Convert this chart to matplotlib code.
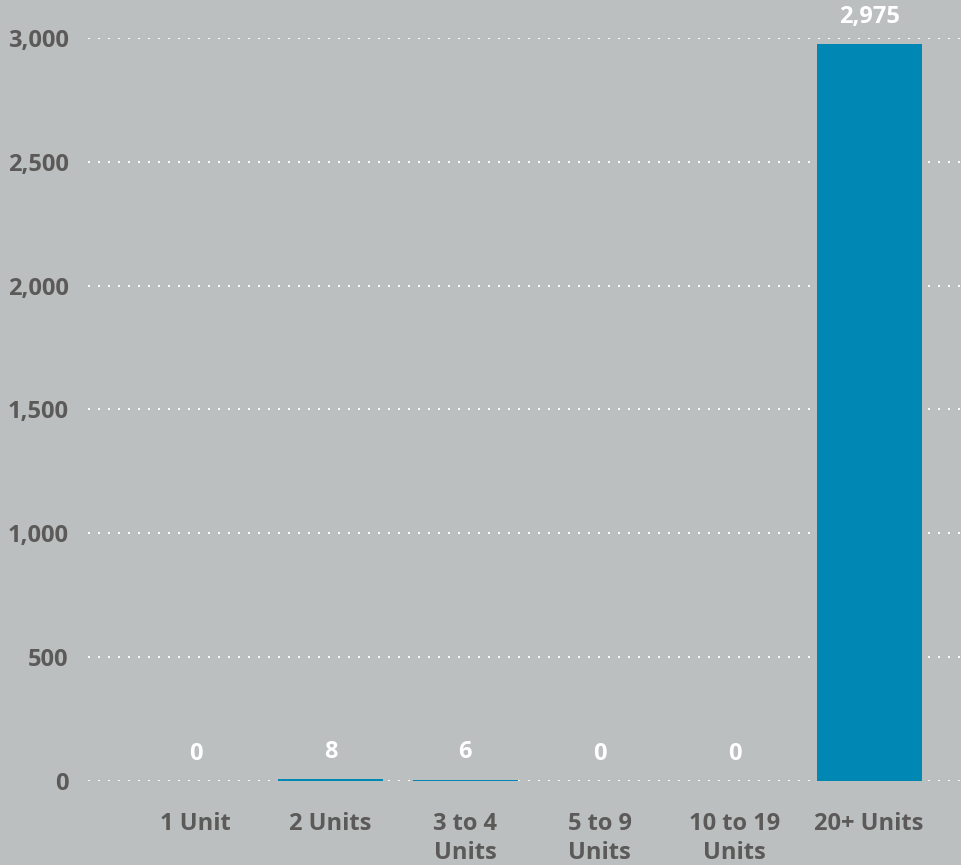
import matplotlib.pyplot as plt

categories = ["1 Unit", "2 Units", "3 to 4\nUnits", "5 to 9\nUnits", "10 to 19\nUnits", "20+ Units"]
values = [0, 8, 6, 0, 0, 2975]
y_ticks = [0, 500, 1000, 1500, 2000, 2500, 3000]

BG = "#BCBFC0"
BAR = "#0087B3"
TEXT = "#5B5A59"

plt.rcParams["font.family"] = ["Open Sans", "DejaVu Sans"]

fig = plt.figure(figsize=(9.62, 8.65), dpi=100, facecolor=BG)
ax = fig.add_axes([0.0915, 0.0971, 0.9085, 0.8590], facecolor=BG)

x = list(range(len(categories)))
bars = ax.bar(x, values, width=0.78, color=BAR, zorder=3)

ax.set_xlim(-0.80, 5.69)
ax.set_ylim(0, 3000)

ax.set_yticks(y_ticks)
ax.set_yticklabels([f"{v:,}" for v in y_ticks])
ax.set_xticks(x)
ax.set_xticklabels(categories, linespacing=1.3)

for lbl in ax.get_xticklabels() + ax.get_yticklabels():
    lbl.set_fontweight("bold")
    lbl.set_fontsize(17)
    lbl.set_color(TEXT)

ax.tick_params(axis="both", length=0)
ax.tick_params(axis="x", pad=22)
ax.tick_params(axis="y", pad=14)

ax.grid(axis="y", color="white", linestyle=(0, (1, 4)), linewidth=1.44, zorder=1)
ax.grid(axis="x", visible=False)
for s in ax.spines.values():
    s.set_visible(False)

for xi, v in zip(x, values):
    ax.annotate(f"{v:,}", (xi, v), xytext=(0, 19.5), textcoords="offset points",
                ha="center", va="center", color="white", fontsize=17,
                fontweight="bold", annotation_clip=False, zorder=4)

fig.savefig("out.png", dpi=100, facecolor=BG)
